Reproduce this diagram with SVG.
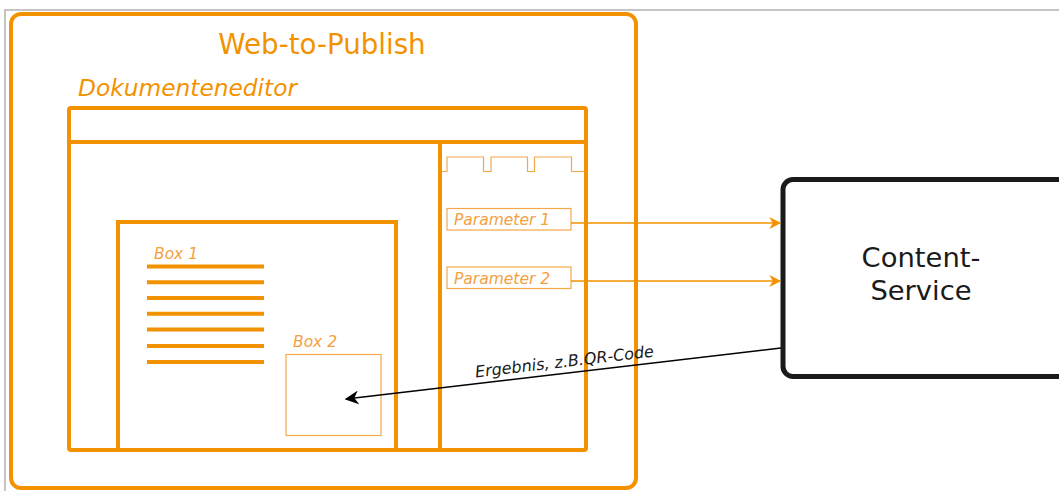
<svg xmlns="http://www.w3.org/2000/svg" width="1059" height="491" viewBox="0 0 1059 491">
  <defs>
    <style>
      .frame { fill: none; stroke: #c4c4c4; stroke-width: 2; }
      .thick { fill: none; stroke: #f39200; stroke-width: 4; }
      .thin { fill: none; stroke: #f5a84a; stroke-width: 1.2; }
      .bar { stroke: #f39200; stroke-width: 4; }
      .lbl { font-family: "DejaVu Sans", Verdana, sans-serif; }
      .orange { fill: #f39200; }
      .param { fill: #f5a040; font-style: italic; font-size: 15.5px; }
      .conn-o { fill: none; stroke: #f39200; stroke-width: 1.5; }
      .conn-k { fill: none; stroke: #000; stroke-width: 1.5; }
    </style>
    <marker id="arr-o" viewBox="0 0 10 10" refX="9" refY="5" markerWidth="13" markerHeight="12" markerUnits="userSpaceOnUse" orient="auto">
      <path d="M0,0 L10,5 L0,10 L3,5 Z" fill="#f39200"/>
    </marker>
    <marker id="arr-k" viewBox="0 0 10 10" refX="9" refY="5" markerWidth="14" markerHeight="14" markerUnits="userSpaceOnUse" orient="auto">
      <path d="M0,0 L10,5 L0,10 L3,5 Z" fill="#000"/>
    </marker>
  </defs>
  <rect width="1059" height="491" fill="#fff"/>
  <!-- page frame -->
  <path class="frame" d="M5,491 V10 H1059"/>

  <!-- Web-to-Publish container -->
  <g id="web-to-publish">
    <rect class="thick" x="11" y="14" width="625" height="474" rx="10"/>
    <text class="lbl orange" x="322" y="54" font-size="27.7" text-anchor="middle">Web-to-Publish</text>
  </g>

  <!-- Document editor window -->
  <g id="dokumenteneditor">
    <text class="lbl orange" x="78" y="96" font-size="23.3" font-style="italic">Dokumenteneditor</text>
    <rect class="thick" x="69" y="108" width="517" height="342" rx="2"/>
    <line class="bar" x1="69" y1="142" x2="586" y2="142"/>
    <line class="bar" x1="440" y1="142" x2="440" y2="450"/>
    <!-- tab strip -->
    <path class="thin" d="M442,171.5 H447 V157 H483.5 V171.5 H491 V157 H527.5 V171.5 H534.5 V157 H571.5 V171.5 H584"/>
  </g>

  <!-- Page area with boxes -->
  <g id="page">
    <rect class="thick" x="118" y="222" width="278" height="228"/>
  </g>
  <g id="box1">
    <text class="lbl param" x="154" y="259">Box 1</text>
    <line class="bar" x1="147" y1="266.5" x2="264" y2="266.5"/>
    <line class="bar" x1="147" y1="282.3" x2="264" y2="282.3"/>
    <line class="bar" x1="147" y1="298" x2="264" y2="298"/>
    <line class="bar" x1="147" y1="313.7" x2="264" y2="313.7"/>
    <line class="bar" x1="147" y1="329.4" x2="264" y2="329.4"/>
    <line class="bar" x1="147" y1="346" x2="264" y2="346"/>
    <line class="bar" x1="147" y1="362" x2="264" y2="362"/>
  </g>
  <g id="box2">
    <text class="lbl param" x="293" y="347">Box 2</text>
    <rect class="thin" x="286" y="354.5" width="95" height="81"/>
  </g>

  <g id="parameter1">
    <rect class="thin" x="447" y="208.5" width="124" height="21.5"/>
    <text class="lbl param" x="454" y="224.5">Parameter 1</text>
  </g>
  <g id="parameter2">
    <rect class="thin" x="447" y="267" width="124" height="21.5"/>
    <text class="lbl param" x="454" y="283.5">Parameter 2</text>
  </g>

  <!-- Content service -->
  <g id="content-service">
    <rect x="783" y="179.5" width="290" height="197" rx="10" fill="#fff" stroke="#1a1a1a" stroke-width="5"/>
    <text class="lbl" x="921" y="267" font-size="27.4" fill="#1a1a1a" text-anchor="middle">Content-</text>
    <text class="lbl" x="921" y="300" font-size="27.4" fill="#1a1a1a" text-anchor="middle">Service</text>
  </g>

  <!-- Connectors -->
  <g id="connectors">
    <line class="conn-o" x1="571" y1="223" x2="780" y2="223" marker-end="url(#arr-o)"/>
    <line class="conn-o" x1="571" y1="281" x2="780" y2="281" marker-end="url(#arr-o)"/>
    <line class="conn-k" x1="781" y1="348" x2="346" y2="399" marker-end="url(#arr-k)"/>
    <text class="lbl" x="565" y="367" font-size="16" font-style="italic" fill="#1a1a1a" text-anchor="middle" transform="rotate(-6.7 565 367)">Ergebnis, z.B.QR-Code</text>
  </g>
</svg>
